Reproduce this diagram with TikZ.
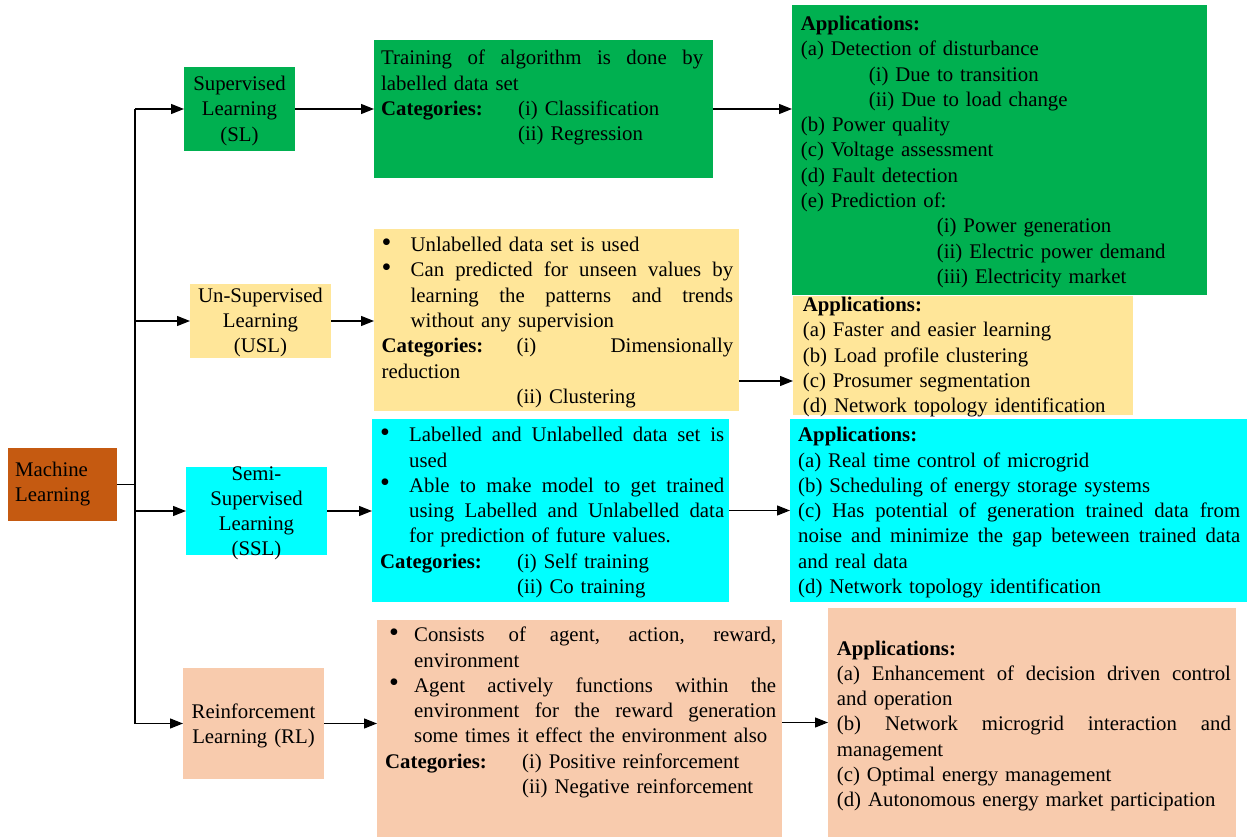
\documentclass[tikz,border=0pt]{standalone}
\usepackage{fontspec}
\usepackage{graphicx}
\setmainfont{Liberation Serif}
\usetikzlibrary{arrows.meta}

\definecolor{mlbrown}{HTML}{C55A11}
\definecolor{slgreen}{HTML}{00B050}
\definecolor{uslyellow}{HTML}{FFE699}
\definecolor{sslcyan}{HTML}{00FFFF}
\definecolor{rlpeach}{HTML}{F8CBAD}

\newlength\bulshift
% interword spaces that may stretch (align=left fixes them otherwise)
\newcommand\stretchsp{\spaceskip=0pt\relax\xspaceskip=0pt\relax}
% bullet glyph
\newcommand\bulglyph{\hspace*{\bulshift}\raisebox{0.5pt}{\scalebox{1.35}{\textbullet}}}
% justified full line
\newcommand\jfull[1]{\makebox[\linewidth][s]{\stretchsp #1}}
% bullet + natural line
\newcommand\bnat[1]{\makebox[29pt][l]{\bulglyph}#1}
% bullet + justified line
\newcommand\bjus[1]{\makebox[29pt][l]{\bulglyph}\makebox[\dimexpr\linewidth-29pt\relax][s]{\stretchsp #1}}
% indented natural / justified continuation lines
\newcommand\inat[1]{\hspace*{29pt}#1}
\newcommand\ijus[1]{\hspace*{29pt}\makebox[\dimexpr\linewidth-29pt\relax][s]{\stretchsp #1}}
% categories tab
\newcommand\cattab{\makebox[137pt][l]{\textbf{Categories:}}}
\newcommand\catind{\hspace*{137pt}}

\tikzset{
  every node/.style={font=\fontsize{20.8pt}{25.3pt}\selectfont},
  box/.style={rectangle, draw=none, inner sep=0pt, outer sep=0pt},
  txt/.style={anchor=base west, inner sep=0pt, align=left},
  ctxt/.style={anchor=base, inner sep=0pt, align=center, text width=160pt},
  link/.style={line width=1.3pt, -{Triangle[length=13pt,width=10pt]}},
  plain/.style={line width=1.3pt},
}

\begin{document}
\begin{tikzpicture}[x=1pt, y=-1pt]
\path[use as bounding box] (0,0) rectangle (1253,837);

% ---------- coloured boxes ----------
\node[box, fill=mlbrown,    minimum width=109pt, minimum height=73pt]  (ml)   at (62.5,484.5) {};
\node[box, fill=slgreen,    minimum width=111pt, minimum height=84pt]  (sl)   at (239.5,109) {};
\node[box, fill=uslyellow,  minimum width=141pt, minimum height=74pt]  (usl)  at (260.5,321) {};
\node[box, fill=sslcyan,    minimum width=141pt, minimum height=88pt]  (ssl)  at (256.5,511) {};
\node[box, fill=rlpeach,    minimum width=141pt, minimum height=111pt] (rl)   at (253.5,723.5) {};

\node[box, fill=slgreen,    minimum width=339pt, minimum height=138pt] (sld)  at (543.5,109) {};
\node[box, fill=uslyellow,  minimum width=365pt, minimum height=182pt] (usld) at (556.5,320) {};
\node[box, fill=sslcyan,    minimum width=357pt, minimum height=183pt] (ssld) at (550.5,510.5) {};
\node[box, fill=rlpeach,    minimum width=405pt, minimum height=217pt] (rld)  at (579.5,728.5) {};

\node[box, fill=slgreen,    minimum width=415pt, minimum height=290pt] (sla)  at (999.5,150) {};
\node[box, fill=uslyellow,  minimum width=340pt, minimum height=119pt] (usla) at (963,355.5) {};
\node[box, fill=sslcyan,    minimum width=457pt, minimum height=183pt] (ssla) at (1018.5,510.5) {};
\node[box, fill=rlpeach,    minimum width=408pt, minimum height=229pt] (rla)  at (1032,722.5) {};

% ---------- labels of the method boxes ----------
\node[txt, text width=100pt] (mlt) at (15,476) {Machine\\Learning};
\node[ctxt] (slt)  at (239.5,90.7) {Supervised\\Learning\\(SL)};
\node[ctxt] (uslt) at (260.5,302)  {Un-Supervised\\Learning\\(USL)};
\node[ctxt] (sslt) at (256.5,480)  {Semi-\\Supervised\\Learning\\(SSL)};
\node[ctxt] (rlt)  at (253.5,718)  {Reinforcement\\Learning (RL)};

% ---------- descriptions ----------
\node[txt, text width=322pt] (sldt) at (381,65) {%
\jfull{Training of algorithm is done by}\\
labelled data set\\
\cattab(i) Classification\\
\catind(ii) Regression};

\node[txt, text width=351.5pt] (usldt) at (381.5,251.7) {%
\setlength\bulshift{0pt}%
\bnat{Unlabelled data set is used}\\
\bjus{Can predicted for unseen values by}\\
\ijus{learning the patterns and trends}\\
\inat{without any supervision}\\
\makebox[135pt][l]{\textbf{Categories:}}\makebox[\dimexpr\linewidth-135pt\relax][s]{\stretchsp (i) Dimensionally}\\
reduction\\
\hspace*{135pt}(ii) Clustering};

\node[txt, text width=344pt] (ssldt) at (380,441.7) {%
\setlength\bulshift{0pt}%
\bjus{Labelled and Unlabelled data set is}\\
\inat{used}\\
\bjus{Able to make model to get trained}\\
\ijus{using Labelled and Unlabelled data}\\
\inat{for prediction of future values.}\\
\cattab(i) Self training\\
\catind(ii) Co training};

\node[txt, text width=391pt] (rldt) at (385,641.7) {%
\setlength\bulshift{4pt}%
\bjus{Consists of agent, action, reward,}\\
\inat{environment}\\
\bjus{Agent actively functions within the}\\
\ijus{environment for the reward generation}\\
\inat{some times it effect the environment also}\\
\cattab(i) Positive reinforcement\\
\catind(ii) Negative reinforcement};

% ---------- applications ----------
\node[txt, text width=400pt] (slat) at (800.7,30.5) {%
\textbf{Applications:}\\
(a) Detection of disturbance\\
\hspace*{68pt}(i) Due to transition\\
\hspace*{68pt}(ii) Due to load change\\
(b) Power quality\\
(c) Voltage assessment\\
(d) Fault detection\\
(e) Prediction of:\\
\hspace*{136pt}(i) Power generation\\
\hspace*{136pt}(ii) Electric power demand\\
\hspace*{136pt}(iii) Electricity market};

\node[txt, text width=328pt] (uslat) at (802.7,311.7) {%
\textbf{Applications:}\\
(a) Faster and easier learning\\
(b) Load profile clustering\\
(c) Prosumer segmentation\\
(d) Network topology identification};

\node[txt, text width=442pt] (sslat) at (798,441.7) {%
\textbf{Applications:}\\
(a) Real time control of microgrid\\
(b) Scheduling of energy storage systems\\
\jfull{(c) Has potential of generation trained data from}\\
\jfull{noise and minimize the gap beteween trained data}\\
and real data\\
(d) Network topology identification};

\node[txt, text width=394pt] (rlat) at (836.7,655) {%
\textbf{Applications:}\\
\jfull{(a) Enhancement of decision driven control}\\
and operation\\
\jfull{(b) Network microgrid interaction and}\\
management\\
(c) Optimal energy management\\
(d) Autonomous energy market participation};

% ---------- connectors ----------
\coordinate (tr) at (135,484);
\draw[plain] (ml.east) -- (ml.east -| tr);
\draw[plain] (tr |- sl.west) -- (tr |- rl.west);
\foreach \b in {sl,usl,ssl,rl}
  \draw[link] (tr |- \b.west) -- (\b.west);

\draw[link] (sl.east) -- (sld.west);
\draw[link] (usl.east) -- (usl.east -| usld.west);
\draw[link] (ssl.east) -- (ssl.east -| ssld.west);
\draw[link] (rl.east) -- (rl.east -| rld.west);

\draw[link] (sld.east) -- (sld.east -| sla.west);
\coordinate (ua) at ([yshift=-61pt]usld.east);
\draw[link] (ua) -- (ua -| usla.west);
\draw[link] (ssld.east) -- (ssla.west);
\draw[link] (rla.west -| rld.east) -- (rla.west);
\end{tikzpicture}
\end{document}
